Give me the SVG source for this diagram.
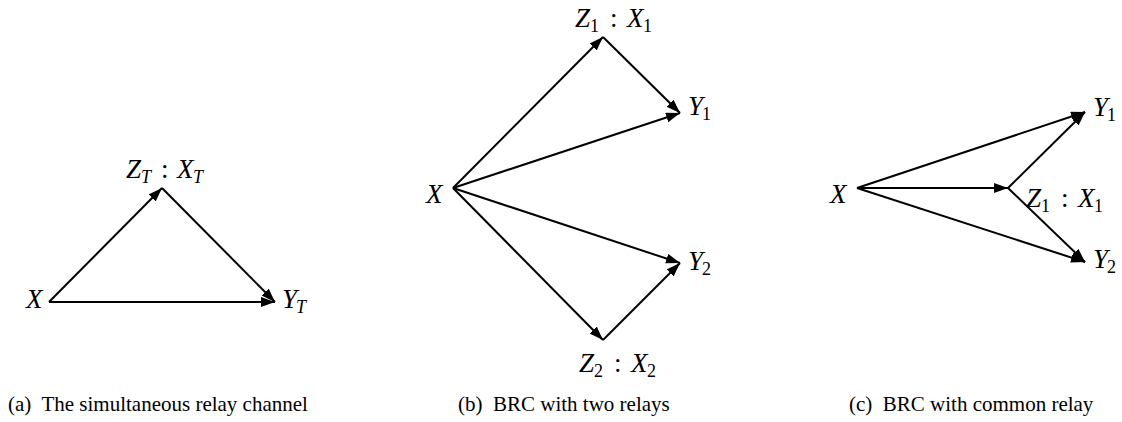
<svg xmlns="http://www.w3.org/2000/svg" width="1122" height="422" viewBox="0 0 1122 422">
<style>
.bg{fill:#fff}
.e{stroke:#000;stroke-width:2;fill:none;marker-end:url(#ah)}
.m{font-family:"Liberation Serif","Times New Roman",serif;font-style:italic;font-size:27px;fill:#000}
.s{font-size:18px}
.u{font-style:normal}
.cap{font-family:"Liberation Serif","Times New Roman",serif;font-size:21px;fill:#000}
</style>
<defs>
<marker id="ah" markerUnits="userSpaceOnUse" markerWidth="16" markerHeight="12" refX="14" refY="5" orient="auto">
<path d="M0,0 L14,5 L0,10 z" fill="#000"/>
</marker>
</defs>
<rect class="bg" x="0" y="0" width="1122" height="422"/>
<g id="connectors">
<line class="e" x1="49" y1="302" x2="162" y2="188"/>
<line class="e" x1="162" y1="188" x2="275" y2="302"/>
<line class="e" x1="49" y1="302" x2="275" y2="302"/>
<line class="e" x1="453" y1="188" x2="603" y2="37"/>
<line class="e" x1="603" y1="37" x2="680" y2="113"/>
<line class="e" x1="453" y1="188" x2="680" y2="113"/>
<line class="e" x1="453" y1="188" x2="680" y2="263"/>
<line class="e" x1="453" y1="188" x2="603" y2="340"/>
<line class="e" x1="603" y1="340" x2="680" y2="263"/>
<line class="e" x1="857" y1="188" x2="1085" y2="112"/>
<line class="e" x1="857" y1="188" x2="1008" y2="188"/>
<line class="e" x1="857" y1="188" x2="1085" y2="262"/>
<line class="e" x1="1008" y1="188" x2="1085" y2="112"/>
<line class="e" x1="1008" y1="188" x2="1085" y2="262"/>
</g>
<g id="a-X"><text class="m" x="26" y="308">X</text></g>
<g id="a-Z"><text class="m" y="178"><tspan x="126">Z</tspan><tspan class="s" x="141" dy="5">T</tspan><tspan class="u" x="161" dy="-5">:</tspan><tspan x="177">X</tspan><tspan class="s" x="193" dy="5">T</tspan></text></g>
<g id="a-Y"><text class="m" y="308"><tspan x="282">Y</tspan><tspan class="s" x="296" dy="5">T</tspan></text></g>
<g id="b-X"><text class="m" x="426" y="203">X</text></g>
<g id="b-Z1"><text class="m" y="27"><tspan x="575">Z</tspan><tspan class="s u" x="590" dy="5">1</tspan><tspan class="u" x="610" dy="-5">:</tspan><tspan x="627">X</tspan><tspan class="s u" x="643" dy="5">1</tspan></text></g>
<g id="b-Y1"><text class="m" y="115"><tspan x="688">Y</tspan><tspan class="s u" x="702" dy="5">1</tspan></text></g>
<g id="b-Y2"><text class="m" y="270"><tspan x="688">Y</tspan><tspan class="s u" x="702" dy="5">2</tspan></text></g>
<g id="b-Z2"><text class="m" y="372"><tspan x="579">Z</tspan><tspan class="s u" x="594" dy="5">2</tspan><tspan class="u" x="614" dy="-5">:</tspan><tspan x="631">X</tspan><tspan class="s u" x="647" dy="5">2</tspan></text></g>
<g id="c-X"><text class="m" x="830" y="203">X</text></g>
<g id="c-Y1"><text class="m" y="116"><tspan x="1093">Y</tspan><tspan class="s u" x="1107" dy="5">1</tspan></text></g>
<g id="c-Z1"><text class="m" y="207"><tspan x="1026">Z</tspan><tspan class="s u" x="1041" dy="5">1</tspan><tspan class="u" x="1061" dy="-5">:</tspan><tspan x="1078">X</tspan><tspan class="s u" x="1094" dy="5">1</tspan></text></g>
<g id="c-Y2"><text class="m" y="268"><tspan x="1093">Y</tspan><tspan class="s u" x="1107" dy="5">2</tspan></text></g>
<g id="captions">
<text class="cap" x="8" y="411">(a)&#160; The simultaneous relay channel</text>
<text class="cap" x="458" y="411">(b)&#160; BRC with two relays</text>
<text class="cap" x="849" y="411">(c)&#160; BRC with common relay</text>
</g>
</svg>
